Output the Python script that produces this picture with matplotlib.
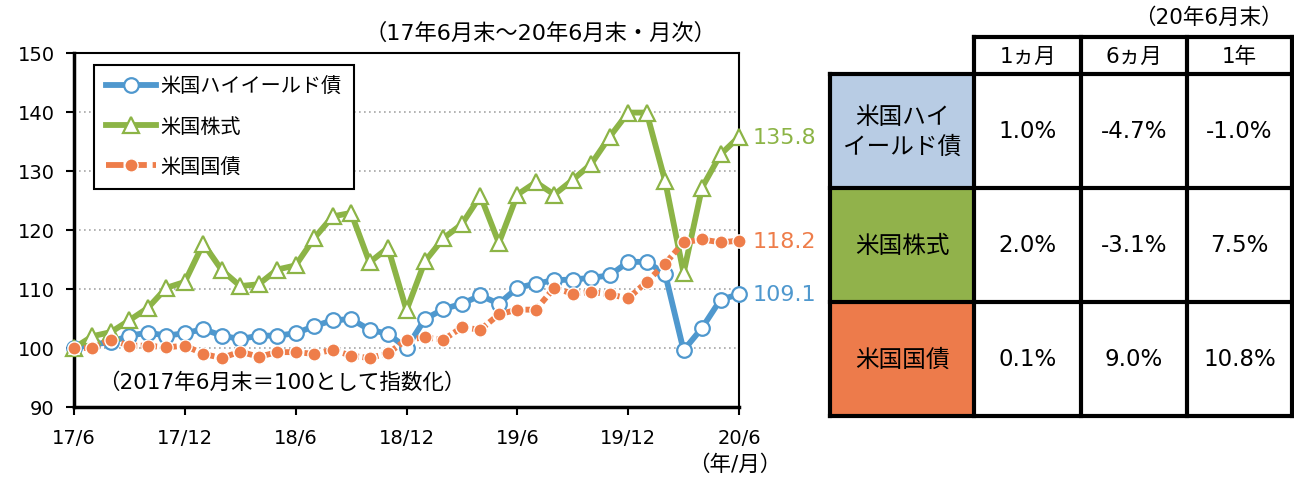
import matplotlib
matplotlib.use('Agg')
import matplotlib.pyplot as plt
from matplotlib.legend_handler import HandlerLine2D

plt.rcParams['font.family'] = ['DejaVu Sans', 'Noto Sans CJK JP']

# 17/6 .. 20/6 month-end index (2017/6 = 100)
months = list(range(37))
tick_pos = [0, 6, 12, 18, 24, 30, 36]
tick_labels = ['17/6', '17/12', '18/6', '18/12', '19/6', '19/12', '20/6']

high_yield = [100.0, 100.6, 101.0, 102.1, 102.6, 102.1, 102.5, 103.2, 102.1, 101.5,
              102.1, 102.1, 102.5, 103.7, 104.7, 104.9, 103.1, 102.4, 100.0, 104.9,
              106.6, 107.5, 108.9, 107.5, 110.2, 110.9, 111.5, 111.6, 111.9, 112.3,
              114.6, 114.6, 112.6, 99.6, 103.4, 108.2, 109.1]
stocks = [100.0, 102.0, 102.7, 104.7, 106.8, 110.2, 111.2, 117.7, 113.2, 110.5,
          110.8, 113.3, 114.0, 118.6, 122.3, 122.9, 114.5, 117.0, 106.4, 114.7,
          118.6, 121.0, 125.8, 117.8, 126.0, 128.1, 126.0, 128.5, 131.2, 135.8,
          139.9, 139.9, 128.3, 112.7, 127.2, 132.8, 135.8]
treasury = [100.0, 100.0, 101.4, 100.4, 100.4, 100.1, 100.4, 99.0, 98.3, 99.4,
            98.5, 99.3, 99.3, 99.0, 99.7, 98.7, 98.3, 99.1, 101.4, 101.8,
            101.4, 103.5, 103.1, 105.7, 106.5, 106.5, 110.2, 109.2, 109.5, 109.1,
            108.4, 111.2, 114.3, 117.9, 118.4, 117.9, 118.2]

names = ['米国ハイイールド債', '米国株式', '米国国債']
end_labels = ['109.1', '135.8', '118.2']

table_cols = ['1ヵ月', '6ヵ月', '1年']
table_rows = ['米国ハイ\nイールド債', '米国株式', '米国国債']
table_vals = [['1.0%', '-4.7%', '-1.0%'],
              ['2.0%', '-3.1%', '7.5%'],
              ['0.1%', '9.0%', '10.8%']]

c_blue = '#4F98CE'
c_green = '#8CB446'
c_orange = '#EE7D4A'
cell_colors = ['#B8CCE4', '#91B24B', '#ED7B4B']

W, H = 1294, 481
fig = plt.figure(figsize=(W / 100, H / 100), dpi=100)
ax = fig.add_axes([74 / W, 1 - 408 / H, 665 / W, 354 / H])

ax.plot(months, high_yield, color=c_blue, lw=4.2, marker='o', ms=10.5,
        mfc='white', mec=c_blue, mew=1.6, clip_on=False, label=names[0], zorder=3)
ax.plot(months, stocks, color=c_green, lw=4.2, marker='^', ms=11.5,
        mfc='white', mec=c_green, mew=1.6, clip_on=False, label=names[1], zorder=3)
tr_line, = ax.plot(months, treasury, color=c_orange, lw=4.2, ls=(0, (1.1, 0.6)), marker='o', ms=9.5,
                   mfc=c_orange, mec='white', mew=1.0, clip_on=False, label=names[2], zorder=4)

ax.set_xlim(0, 36)
ax.set_ylim(90, 150)
ax.set_yticks(range(90, 151, 10))
ax.set_xticks(tick_pos)
ax.set_xticklabels(tick_labels)
ax.yaxis.grid(True, ls=(0, (1, 2)), color='#A6A6A6', lw=1.2)
ax.set_axisbelow(True)
for s in ['left', 'bottom']:
    ax.spines[s].set_linewidth(2.5)
for s in ['top', 'right']:
    ax.spines[s].set_linewidth(1.5)
ax.tick_params(axis='y', direction='out', length=6, width=1.5, labelsize=14, pad=8)
ax.tick_params(axis='x', direction='out', length=6, width=1.5, labelsize=14, pad=9)

for vals, lab, col in zip([high_yield, stocks, treasury], end_labels, [c_blue, c_green, c_orange]):
    ax.annotate(lab, (36, vals[-1]), xytext=(10, 0), textcoords='offset points',
                color=col, fontsize=16, va='center', ha='left', annotation_clip=False)


def dashed_handle(handle, orig):
    handle.update_from(orig)
    handle.set_linestyle((0, (3.0, 1.0)))


leg = ax.legend(loc='upper left', bbox_to_anchor=(0.030, 0.966), borderaxespad=0,
                fontsize=14.5, handlelength=2.5, handletextpad=0.2, labelspacing=1.05,
                borderpad=0.6, fancybox=False, edgecolor='black', framealpha=1, numpoints=1,
                handler_map={tr_line: HandlerLine2D(update_func=dashed_handle)})
leg.get_frame().set_linewidth(1.5)

ax.text(0.036, 0.0706, '（2017年6月末＝100として指数化）', transform=ax.transAxes,
        fontsize=15.5, va='center', ha='left')
fig.text(540 / W, 1 - 33 / H, '（17年6月末～20年6月末・月次）', fontsize=16, ha='center', va='center')
fig.text(735 / W, 1 - 465 / H, '（年/月）', fontsize=15.5, ha='center', va='center')

# performance table
tx = fig.add_axes([830 / W, 1 - 417 / H, 463 / W, 379 / H])
tx.set_xlim(0, 463)
tx.set_ylim(379, 0)
tx.axis('off')
col_edges = [0, 144, 251, 357, 462]
row_edges = [0, 37, 151, 265, 379]

for i, lab in enumerate(table_rows):
    y0, y1 = row_edges[i + 1], row_edges[i + 2]
    tx.add_patch(plt.Rectangle((0, y0), col_edges[1], y1 - y0, color=cell_colors[i], lw=0))
    tx.text(col_edges[1] / 2, (y0 + y1) / 2, lab, fontsize=17, ha='center', va='center',
            linespacing=1.3)
    for j, v in enumerate(table_vals[i]):
        tx.text((col_edges[j + 1] + col_edges[j + 2]) / 2, (y0 + y1) / 2, v,
                fontsize=16.5, ha='center', va='center')
for j, lab in enumerate(table_cols):
    tx.text((col_edges[j + 1] + col_edges[j + 2]) / 2, (row_edges[0] + row_edges[1]) / 2, lab,
            fontsize=15.5, ha='center', va='center')

lw_t = 3.0
tx.plot([col_edges[1], col_edges[-1]], [0, 0], color='black', lw=lw_t, clip_on=False)
for y in row_edges[1:]:
    tx.plot([0, col_edges[-1]], [y, y], color='black', lw=lw_t, clip_on=False)
tx.plot([0, 0], [row_edges[1], row_edges[-1]], color='black', lw=lw_t, clip_on=False)
for x in col_edges[1:]:
    tx.plot([x, x], [0, row_edges[-1]], color='black', lw=lw_t, clip_on=False)

fig.text(1208 / W, 1 - 18 / H, '（20年6月末）', fontsize=15.5, ha='center', va='center')

fig.savefig('out.png', dpi=100)
